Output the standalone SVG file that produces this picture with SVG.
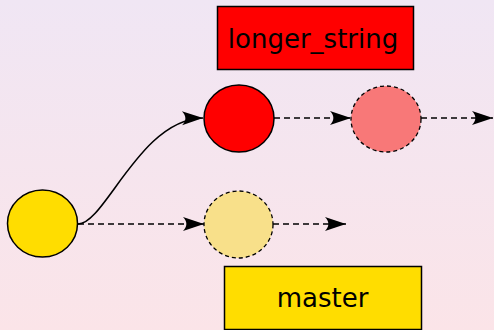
<svg xmlns="http://www.w3.org/2000/svg" width="494" height="330" viewBox="0 0 494 330">
<defs>
<linearGradient id="bg" x1="0" y1="0" x2="0" y2="1">
<stop offset="0" stop-color="#f0e6f4"/>
<stop offset="1" stop-color="#fbe4e8"/>
</linearGradient>
<marker id="arr" markerUnits="userSpaceOnUse" markerWidth="24" markerHeight="18" viewBox="-22 -9 24 18" refX="0" refY="0" orient="auto">
<path d="M0,0 L-21,-7 C-16.5,-2.5 -16.5,2.5 -21,7 Z" fill="#000"/>
</marker>
<style>
.lbl{stroke:#000;stroke-width:1.5}
.txt{font-family:"DejaVu Sans",sans-serif;font-size:26px;fill:#000;text-anchor:middle}
.solid{fill:none;stroke:#000;stroke-width:1.6}
.dash{fill:none;stroke:#000;stroke-width:1.6;stroke-dasharray:6,4}
.node{stroke:#000;stroke-width:1.5}
.ghost{stroke:#000;stroke-width:1.3;stroke-dasharray:4,3}
</style>
</defs>
<rect width="494" height="330" fill="url(#bg)"/>
<g id="connectors">
<path class="solid" d="M78,224 C105,224 140,119 203,118" marker-end="url(#arr)"/>
<path class="dash" d="M78,224 L204,224" marker-end="url(#arr)"/>
<path class="dash" d="M273,224 L346,224" marker-end="url(#arr)"/>
<path class="dash" d="M274,118 L351,118" marker-end="url(#arr)"/>
<path class="dash" d="M421,118 L493,118" marker-end="url(#arr)"/>
</g>
<g id="label-longer_string">
<rect class="lbl" x="217.5" y="6.5" width="196" height="63" fill="#ff0000"/>
<text class="txt" x="313" y="48">longer_string</text>
</g>
<g id="label-master">
<rect class="lbl" x="224.5" y="266.5" width="197" height="63" fill="#ffdd00"/>
<text class="txt" x="322.5" y="307">master</text>
</g>
<g id="commit-red">
<ellipse class="node" cx="239" cy="118.5" rx="35" ry="33.5" fill="#ff0000"/>
</g>
<g id="commit-red-future">
<ellipse class="ghost" cx="386" cy="119" rx="35" ry="33" fill="#f87878"/>
</g>
<g id="commit-yellow">
<ellipse class="node" cx="42.5" cy="223.5" rx="35" ry="33.5" fill="#ffdd00"/>
</g>
<g id="commit-yellow-future">
<ellipse class="ghost" cx="238.5" cy="224.5" rx="34.5" ry="33.5" fill="#f8e08a"/>
</g>
</svg>
